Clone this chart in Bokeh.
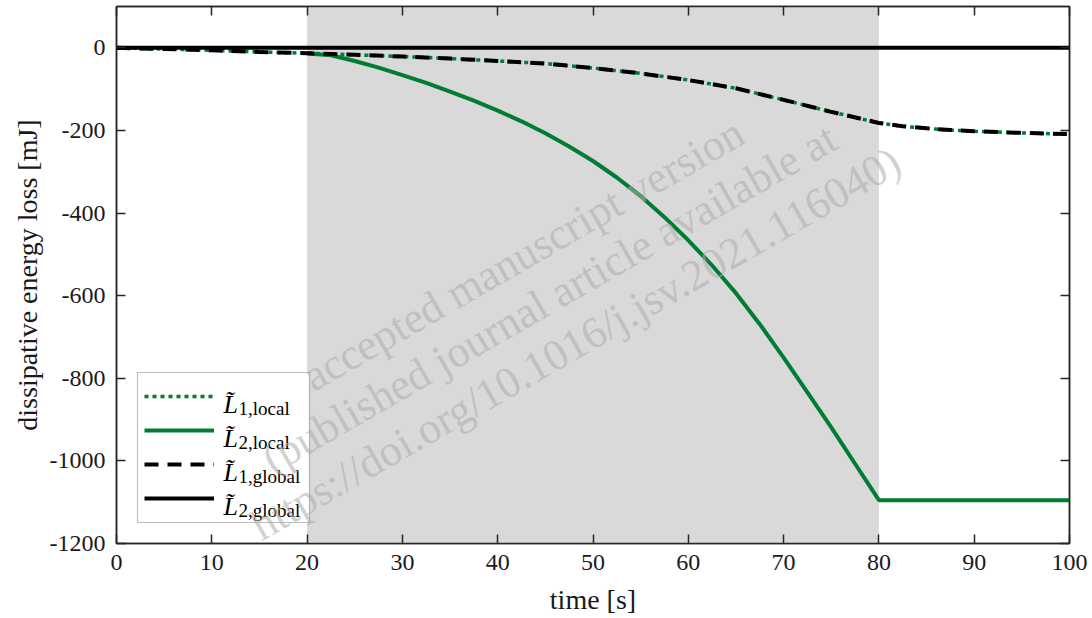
import math
from bokeh.plotting import figure
from bokeh.models import (Range1d, LinearAxis, FixedTicker, BoxAnnotation, Legend,
                          LegendItem, Label, CustomJSTickFormatter)
from bokeh.embed import file_html
from bokeh.resources import INLINE

# ---------------- data ----------------
t_L1 = [0, 5, 10, 15, 20, 25, 30, 35, 40, 45, 50, 55, 60, 65, 70, 75, 80, 82.5, 85, 87.5, 90, 95, 100]
L1_local = [0, -3, -6, -10, -13, -17, -21, -26, -32, -38, -49, -62, -78, -98, -126, -155, -182, -190, -195, -199, -202, -206, -209]
L1_global = [0, -3, -6, -10, -13, -17, -21, -26, -32, -38, -49, -62, -78, -98, -126, -155, -182, -190, -195, -199, -202, -206, -209]

t_L2 = [20, 22.5, 25, 27.5, 30, 32.5, 35, 37.5, 40, 42.5, 45, 47.5, 50, 52.5, 55, 57.5,
        60, 62.5, 65, 67.5, 70, 72.5, 75, 77.5, 80, 100]
L2_local = [-14, -18, -32, -48, -66, -85, -106, -128, -152, -178, -207, -239, -274, -314, -359, -410,
            -466, -527, -594, -669, -750, -834, -919, -1007, -1095, -1095]

t_L2g = [0, 100]
L2_global = [0, 0]

x_ticks = [0, 10, 20, 30, 40, 50, 60, 70, 80, 90, 100]
y_ticks = [-1200, -1000, -800, -600, -400, -200, 0]
shade_start, shade_end = 20, 80

legend_names = ["1,local", "2,local", "1,global", "2,global"]
watermark_lines = ["accepted manuscript version",
                   "(published journal article available at",
                   "https://doi.org/10.1016/j.jsv.2021.116040)"]

# ---------------- styling ----------------
GREEN = "#007d32"
AX = "#262626"
FONT = "Liberation Serif"

p = figure(width=1092, height=618, output_backend="svg", toolbar_location=None,
           x_range=Range1d(0, 100), y_range=Range1d(-1200, 100),
           min_border_left=116, min_border_right=23, min_border_top=6, min_border_bottom=75,
           x_axis_label="time [s]", y_axis_label="dissipative energy loss [mJ]")
p.grid.visible = False
p.background_fill_color = "white"
p.border_fill_color = "white"
p.outline_line_color = AX
p.outline_line_width = 1.5


def style_axis(ax, ticks, show_labels=True):
    ax.ticker = FixedTicker(ticks=ticks)
    ax.axis_line_color = AX
    ax.axis_line_width = 1.5
    ax.major_tick_line_color = AX
    ax.major_tick_line_width = 1.5
    ax.major_tick_in = 9
    ax.major_tick_out = 0
    ax.minor_tick_line_color = None
    ax.major_label_text_font = FONT
    ax.major_label_text_font_size = "24px"
    ax.major_label_text_color = "#1a1a1a"
    ax.axis_label_text_font = FONT
    ax.axis_label_text_font_size = "28px"
    ax.axis_label_text_font_style = "normal"
    ax.axis_label_text_color = "#1a1a1a"
    if show_labels:
        ax.formatter = CustomJSTickFormatter(code="return tick.toFixed(0)")
    else:
        ax.formatter = CustomJSTickFormatter(code="return ''")
        ax.major_label_standoff = 0


style_axis(p.xaxis[0], x_ticks)
style_axis(p.yaxis[0], y_ticks)
p.xaxis[0].major_label_standoff = 11
p.xaxis[0].axis_label_standoff = 11
p.yaxis[0].major_label_standoff = 11
p.yaxis[0].axis_label_standoff = 4

top_ax = LinearAxis()
style_axis(top_ax, x_ticks, show_labels=False)
p.add_layout(top_ax, "above")
right_ax = LinearAxis()
style_axis(right_ax, y_ticks, show_labels=False)
p.add_layout(right_ax, "right")

# shaded interval
p.add_layout(BoxAnnotation(left=shade_start, right=shade_end, fill_color="#d9d9d9",
                           fill_alpha=1.0, line_color=None, level="underlay"))

# lines
r1 = p.line(t_L1, L1_local, line_color=GREEN, line_width=3.5, line_dash="4 4")
r2 = p.line(t_L2, L2_local, line_color=GREEN, line_width=4)
r3 = p.line(t_L1, L1_global, line_color="black", line_width=4, line_dash="14 9")
r4 = p.line(t_L2g, L2_global, line_color="black", line_width=4)

# legend frame (drawn separately so the sub-scripted texts can sit on top of it)
LEG_L, LEG_B, LEG_W, LEG_H, LEG_PAD = 21, 21, 172, 150, 7
p.add_layout(BoxAnnotation(left=LEG_L, right=LEG_L + LEG_W, bottom=LEG_B, top=LEG_B + LEG_H,
                           left_units="screen", right_units="screen",
                           bottom_units="screen", top_units="screen",
                           fill_color="white", fill_alpha=1.0,
                           line_color=AX, line_width=1.2, level="annotation"))

legend = Legend(items=[LegendItem(label=" ", renderers=[r]) for r in (r1, r2, r3, r4)],
                location=(LEG_L + LEG_PAD, LEG_B + LEG_PAD), orientation="vertical",
                glyph_width=70, glyph_height=34, label_height=34, label_width=77,
                label_standoff=9, padding=0, spacing=0, margin=0,
                label_text_font_size="10px",
                border_line_color=None, background_fill_alpha=0.0)
p.add_layout(legend)

row_baselines = [139, 105, 71, 37]
for name, yb in zip(legend_names, row_baselines):
    p.add_layout(Label(x=107, y=yb, x_units="screen", y_units="screen",
                       text="L\u0303", text_font=FONT, text_font_style="italic",
                       text_font_size="26px", text_color="black", text_baseline="alphabetic",
                       level="annotation"))
    p.add_layout(Label(x=122, y=yb - 4, x_units="screen", y_units="screen",
                       text=name, text_font=FONT, text_font_size="19px", text_color="black",
                       text_baseline="alphabetic", level="annotation"))

# watermark (kept inside the plot frame, where annotations are drawn)
wm_pos = [(407, 289), (433, 245), (459, 200)]
for line, (wx, wy) in zip(watermark_lines, wm_pos):
    p.add_layout(Label(x=wx, y=wy, x_units="screen", y_units="screen", text=line,
                       angle=math.radians(30), text_align="center", text_baseline="alphabetic",
                       text_font=FONT, text_font_size="44px", text_color="#aeaeae",
                       text_alpha=0.58, level="overlay"))

open("out.html", "w").write(file_html(p, INLINE))
